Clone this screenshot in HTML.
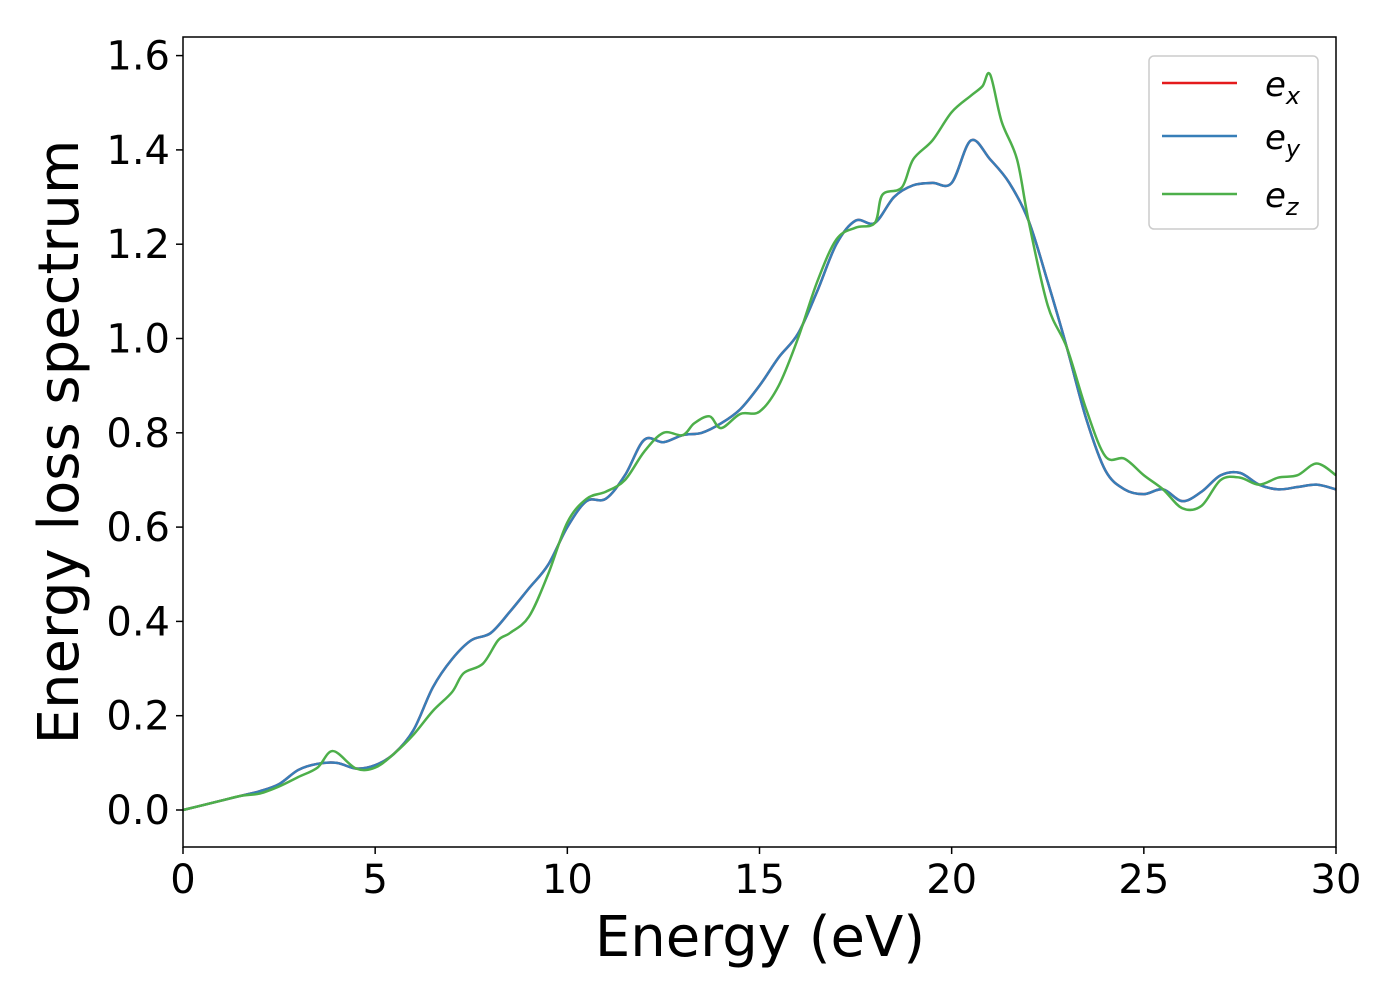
<!DOCTYPE html>
<html><head><meta charset="utf-8"><style>
html,body{margin:0;padding:0;background:#fff;}
svg{display:block;font-family:"DejaVu Sans","Liberation Sans",sans-serif;}
</style></head><body>
<svg id="chart" width="1400" height="1000">
<rect width="1400" height="1000" fill="#fff"/>
<g id="ticks"></g>
<g id="lines"></g>
<rect x="183" y="37" width="1153" height="810" fill="none" stroke="#000" stroke-width="1.5"/>
<text x="760" y="956" font-size="56" text-anchor="middle">Energy (eV)</text>
<text transform="translate(78,442) rotate(-90)" font-size="56" text-anchor="middle">Energy loss spectrum</text>
<g>
<rect x="1149" y="56" width="169" height="173" rx="5" fill="#fff" stroke="#ccc" stroke-width="1.5"/>
<g><line x1="1162" y1="83" x2="1237" y2="83" stroke="#e41a1c" stroke-width="2.5"/><text x="1265" y="96" font-size="34" font-style="italic">e<tspan font-size="24" dy="8">x</tspan></text></g>
<g><line x1="1162" y1="136" x2="1237" y2="136" stroke="#377eb8" stroke-width="2.5"/><text x="1265" y="149" font-size="34" font-style="italic">e<tspan font-size="24" dy="8">y</tspan></text></g>
<g><line x1="1162" y1="194" x2="1237" y2="194" stroke="#4daf4a" stroke-width="2.5"/><text x="1265" y="207" font-size="34" font-style="italic">e<tspan font-size="24" dy="8">z</tspan></text></g>
</g>
</svg>
<script>
const xTicks=[0,5,10,15,20,25,30];
const yTicks=[0.0,0.2,0.4,0.6,0.8,1.0,1.2,1.4,1.6];
const exX=[0,0.5,1,1.5,2,2.5,3,3.5,4,4.5,5,5.5,6,6.5,7,7.5,8,8.5,9,9.5,10,10.5,11,11.5,12,12.5,13,13.5,14,14.5,15,15.5,16,16.5,17,17.5,18,18.5,19,19.5,20,20.5,21,21.5,22,22.5,23,23.5,24,24.5,25,25.5,26,26.5,27,27.5,28,28.5,29,29.5,30];
const exY=[0,0.01,0.02,0.03,0.04,0.055,0.085,0.098,0.1,0.088,0.095,0.12,0.17,0.26,0.32,0.36,0.375,0.42,0.47,0.52,0.6,0.655,0.66,0.71,0.785,0.78,0.795,0.8,0.82,0.85,0.9,0.96,1.01,1.1,1.2,1.25,1.245,1.3,1.325,1.33,1.33,1.42,1.38,1.33,1.25,1.12,0.98,0.83,0.72,0.68,0.67,0.68,0.655,0.675,0.71,0.715,0.69,0.68,0.685,0.69,0.68];
const eyY=exY.slice();
const ezX=[0,0.5,1,1.5,2,2.5,3,3.5,3.9,4.5,5,5.5,6,6.5,7,7.3,7.8,8.2,8.5,9,9.5,10,10.5,11,11.5,12,12.5,13,13.3,13.7,14,14.5,15,15.5,16,16.5,17,17.5,18,18.2,18.7,19,19.5,20,20.5,20.8,21,21.3,21.7,22,22.5,23,23.5,24,24.5,25,25.5,26,26.5,27,27.5,28,28.5,29,29.5,30];
const ezY=[0,0.01,0.02,0.03,0.035,0.05,0.07,0.09,0.125,0.088,0.09,0.12,0.16,0.21,0.25,0.29,0.31,0.36,0.375,0.41,0.5,0.61,0.66,0.675,0.7,0.76,0.8,0.795,0.82,0.835,0.81,0.84,0.845,0.9,1.0,1.12,1.21,1.235,1.245,1.305,1.32,1.38,1.42,1.48,1.515,1.535,1.56,1.46,1.38,1.25,1.07,0.98,0.85,0.75,0.745,0.71,0.68,0.64,0.645,0.7,0.705,0.69,0.705,0.71,0.735,0.71];
const X=v=>183+v/30*1153;
const Y=v=>810-v/0.2*94.3;
const NS="http://www.w3.org/2000/svg";
const tg=document.getElementById('ticks');
xTicks.forEach(t=>{
  const l=document.createElementNS(NS,'line');
  l.setAttribute('x1',X(t));l.setAttribute('x2',X(t));l.setAttribute('y1',847);l.setAttribute('y2',854);l.setAttribute('stroke','#000');l.setAttribute('stroke-width','1.5');
  
  
  tg.appendChild(l);
  const tx=document.createElementNS(NS,'text');
  tx.setAttribute('x',X(t));tx.setAttribute('y',893);tx.setAttribute('font-size','40');tx.setAttribute('text-anchor','middle');
  tx.textContent=t;
  
  
  tg.appendChild(tx);
});
yTicks.forEach(t=>{
  const l=document.createElementNS(NS,'line');
  l.setAttribute('x1',176);l.setAttribute('x2',183);l.setAttribute('y1',Y(t));l.setAttribute('y2',Y(t));l.setAttribute('stroke','#000');l.setAttribute('stroke-width','1.5');
  
  
  tg.appendChild(l);
  const tx=document.createElementNS(NS,'text');
  tx.setAttribute('x',170);tx.setAttribute('y',Y(t)+14);tx.setAttribute('font-size','40');tx.setAttribute('text-anchor','end');
  tx.textContent=t.toFixed(1);
  
  
  tg.appendChild(tx);
});
function path(xs,ys){
  const p=xs.map((x,i)=>[X(x),Y(ys[i])]);
  let d='M'+p[0][0]+','+p[0][1];
  for(let i=0;i<p.length-1;i++){
    const p0=p[Math.max(0,i-1)],p1=p[i],p2=p[i+1],p3=p[Math.min(p.length-1,i+2)];
    const c1=[p1[0]+(p2[0]-p0[0])/6,p1[1]+(p2[1]-p0[1])/6];
    const c2=[p2[0]-(p3[0]-p1[0])/6,p2[1]-(p3[1]-p1[1])/6];
    d+=' C'+c1+' '+c2+' '+p2;
  }
  return d;
}
const lg=document.getElementById('lines');
[[exX,exY,'#e41a1c','line-ex'],[exX,eyY,'#377eb8','line-ey'],[ezX,ezY,'#4daf4a','line-ez']].forEach(s=>{
  const el=document.createElementNS(NS,'path');
  el.setAttribute('d',path(s[0],s[1]));el.setAttribute('fill','none');el.setAttribute('stroke',s[2]);el.setAttribute('stroke-width','2.5');
  
  
  lg.appendChild(el);
});
</script>
</body></html>
